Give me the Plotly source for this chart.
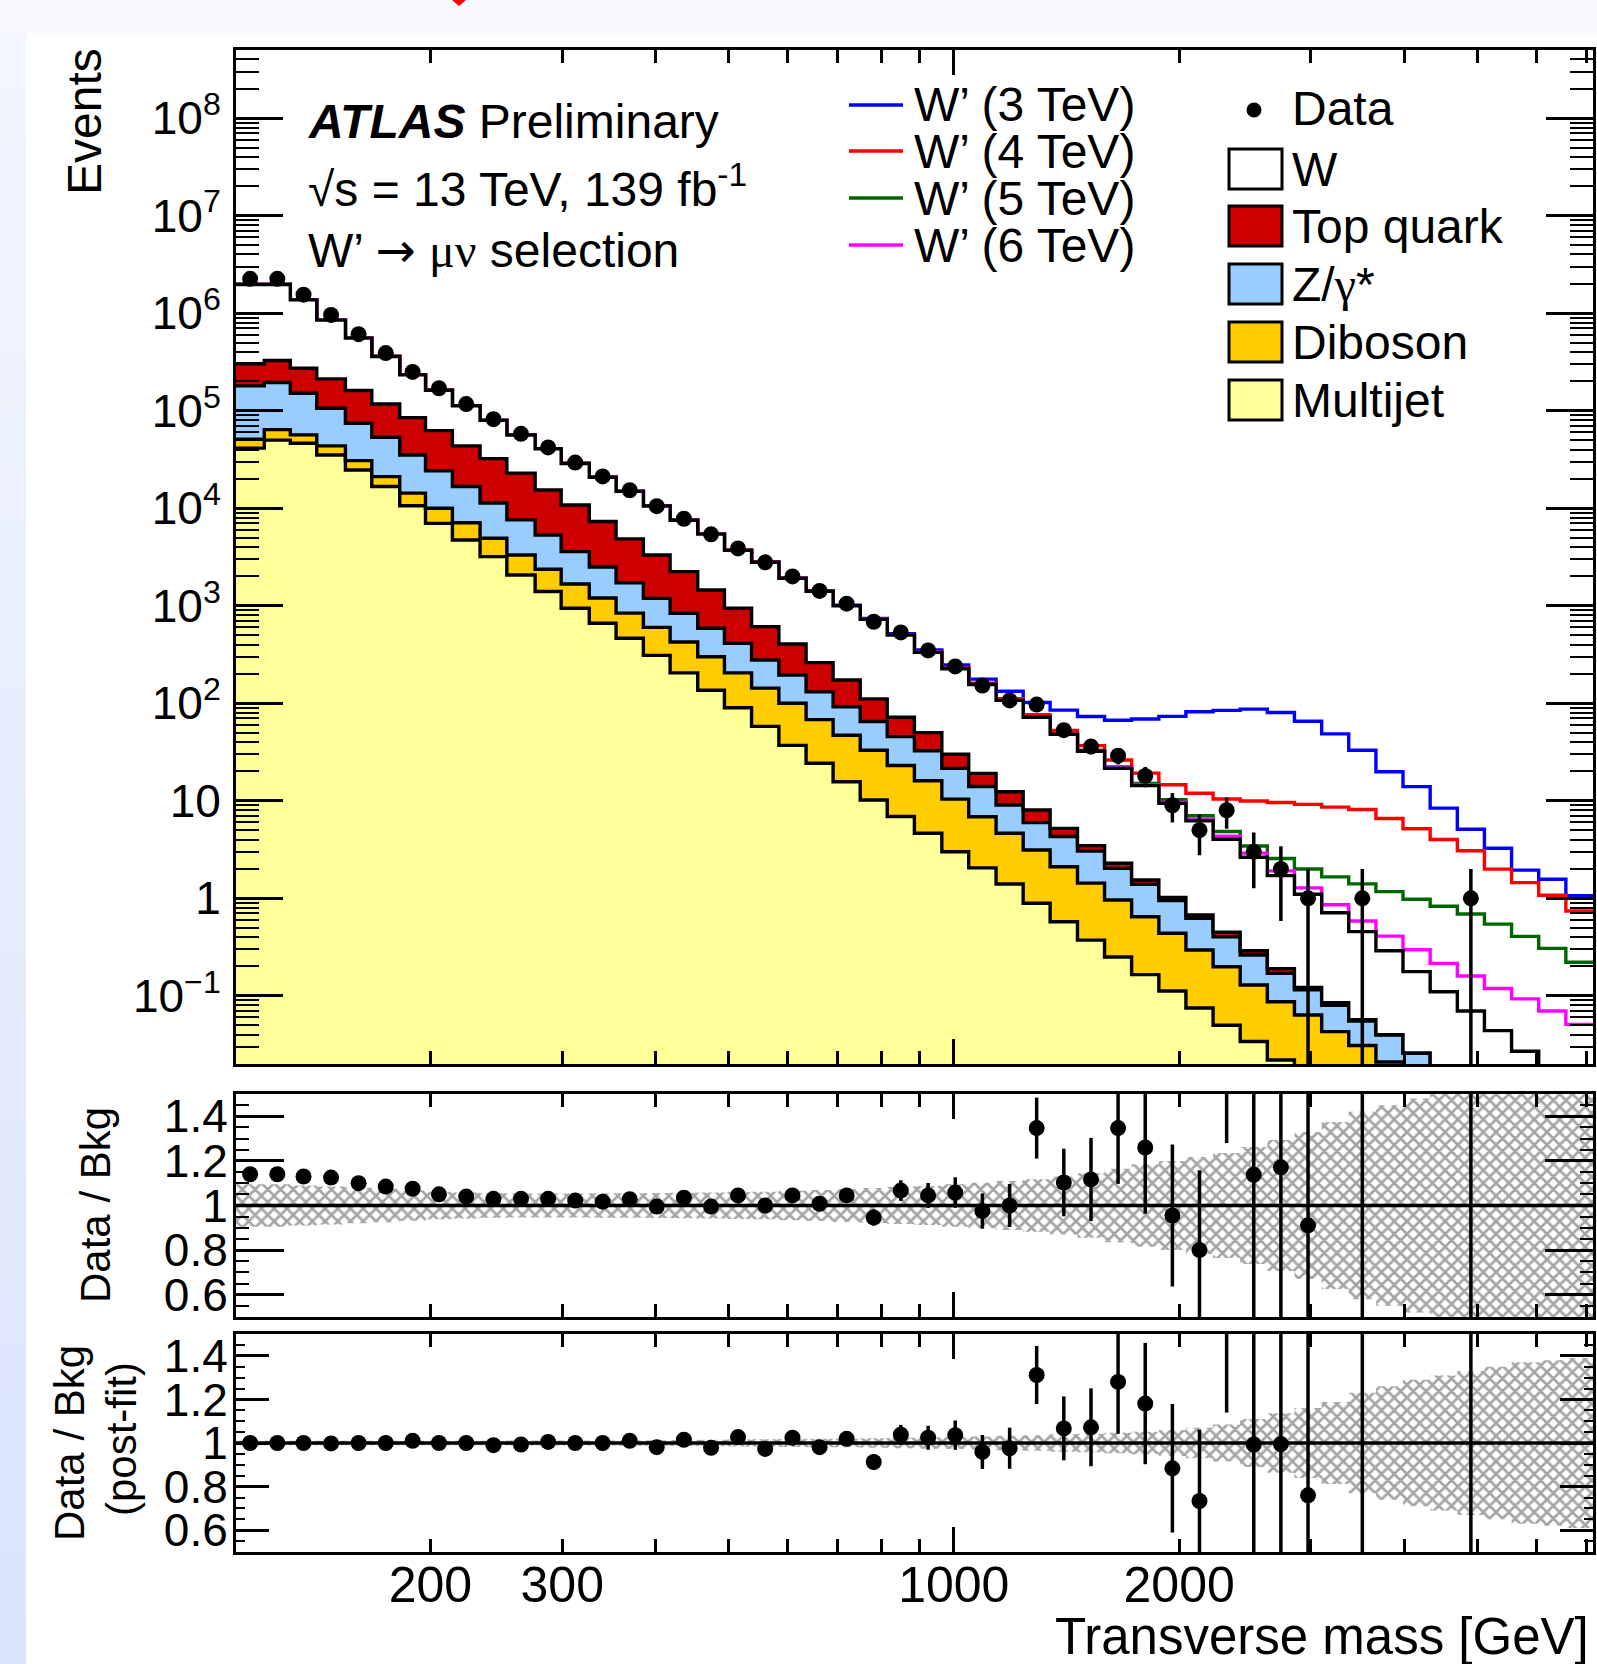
import numpy as np
import plotly.graph_objects as go

# ------------------------------------------------------------------ data
bin_edges = [110, 120, 130, 141, 154, 167, 182, 197, 214, 233, 253, 276, 299, 326, 354,
             385, 418, 455, 494, 537, 584, 635, 690, 750, 815, 886, 964, 1047, 1139, 1238,
             1345, 1463, 1590, 1728, 1879, 2042, 2220, 2413, 2623, 2851, 3100, 3369, 3663,
             3981, 4328, 4705, 5114, 5559, 6043, 6569, 7141]

data_events = [2250000, 2250000, 1550000, 960000, 610000, 390000, 250000, 170000, 117000, 82000,
               58000, 42000, 29400, 21200, 15300, 10500, 7800, 5400, 3870, 2790,
               2000, 1420, 1050, 686, 533, 348, 239, 152, 107, 97,
               53, 36, 29, 18, 9, 5, 8, 3, 2, 1,
               0, 1, 0, 0, 0, 1, 0, 0, 0, 0]

bkg_multijet = [41300, 50000, 46400, 35200, 24700, 16700, 10600, 7000, 4730, 3190,
                2070, 1400, 944, 662, 464, 310, 205, 136, 90, 58,
                37, 24.3, 15.7, 10.2, 6.9, 4.64, 3.0, 2.05, 1.40, 0.89,
                0.575, 0.373, 0.25, 0.165, 0.112, 0.075, 0.05, 0.034, 0.022, 0.0148,
                0.0099, 0.0066, 0.0044, 0.0029, 0.0019, 0.0013, 0.0009, 0.0006, 0.0004, 0.0003]

bkg_diboson = [9700, 14000, 10100, 8400, 6100, 4400, 3700, 3000, 2370, 1740,
               1250, 970, 726, 538, 376, 290, 220, 164, 115, 85,
               63, 43.7, 31.3, 22.8, 16.1, 11.4, 7.4, 4.82, 3.24, 2.24,
               1.535, 1.057, 0.71, 0.483, 0.326, 0.22, 0.149, 0.095, 0.065, 0.0487,
               0.0331, 0.0244, 0.0166, 0.0111, 0.0076, 0.0051, 0.0034, 0.0024, 0.0016, 0.001]

bkg_zgamma = [129000, 131000, 94500, 62400, 43700, 32400, 20900, 14200, 9600, 6370,
              4280, 2930, 1920, 1300, 880, 590, 413, 289, 208, 135,
              95, 63, 45, 32, 22.5, 16.6, 11.1, 7.13, 4.42, 2.84,
              2.19, 1.62, 1.07, 0.742, 0.508, 0.328, 0.205, 0.133, 0.083, 0.0515,
              0.037, 0.024, 0.0186, 0.0117, 0.0065, 0.0041, 0.0027, 0.0015, 0.001, 0.0007]

bkg_top = [123000, 132000, 122000, 106000, 86500, 63500, 49800, 38300, 26900, 21000,
           15300, 10100, 7210, 4800, 3130, 2130, 1402, 861, 530, 333,
           211, 130, 81, 46, 26.5, 17.4, 8.5, 5.1, 3.34, 2.08,
           0.92, 0.42, 0.26, 0.15, 0.074, 0.051, 0.046, 0.028, 0.02, 0.007,
           0.005, 0.002, 0.0004, 0.0003, 0.001, 0.0005, 0.0, 0.0, 0.0, 0.0]

bkg_w = [1667000, 1643000, 1097000, 638000, 394000, 243000, 148000, 99500, 68900, 47300,
         33400, 25400, 18000, 13500, 10050, 7230, 5300, 3980, 2757, 2179,
         1504, 1149, 827, 614, 428, 283, 196, 136.9, 94.6, 63.95,
         42.78, 28.73, 19.21, 12.76, 8.38, 5.576, 3.59, 2.35, 1.52, 0.978,
         0.625, 0.398, 0.25, 0.151, 0.093, 0.059, 0.037, 0.0225, 0.014, 0.009]

sig_wprime_3tev = [8, 8, 8, 9, 9, 9, 10, 10, 10, 11,
                   11, 11, 12, 12, 12, 13, 13, 14, 14, 15,
                   15, 16, 16, 17, 18, 19, 21, 21, 26, 30,
                   37, 41, 45.5, 54.7, 64, 75.7, 80.5, 84.4, 78.8, 64.4,
                   47.8, 32.5, 19.6, 13.8, 8.3, 5.03, 3.22, 1.92, 1.55, 1.05]

sig_wprime_4tev = [3, 3, 3, 3, 3, 3, 3, 3, 3, 3,
                   3, 3, 3, 3.2, 3.2, 3.3, 3.3, 3.4, 3.5, 3.5,
                   3.6, 3.7, 3.8, 3.9, 4.0, 4.1, 4.2, 4.3, 4.5, 4.5,
                   4.6, 4.6, 4.7, 4.9, 5.2, 5.7, 6.4, 7.3, 7.9, 8.1,
                   7.9, 7.7, 6.3, 5.0, 3.9, 3.0, 1.95, 1.42, 1.06, 0.73]

sig_wprime_5tev = [0.7, 0.7, 0.7, 0.7, 0.7, 0.7, 0.7, 0.7, 0.7, 0.7,
                   0.7, 0.7, 0.7, 0.7, 0.7, 0.7, 0.7, 0.7, 0.7, 0.7,
                   0.7, 0.7, 0.7, 0.7, 0.7, 0.7, 0.7, 0.7, 0.7, 0.7,
                   0.72, 0.74, 0.76, 0.8, 0.85, 0.8, 0.8, 0.8, 0.85, 0.9,
                   0.95, 0.95, 0.88, 0.8, 0.72, 0.62, 0.50, 0.38, 0.29, 0.21]

sig_wprime_6tev = [0.2, 0.2, 0.2, 0.2, 0.2, 0.2, 0.2, 0.2, 0.2, 0.2,
                   0.2, 0.2, 0.2, 0.2, 0.2, 0.2, 0.2, 0.2, 0.2, 0.2,
                   0.2, 0.2, 0.2, 0.2, 0.2, 0.2, 0.2, 0.2, 0.2, 0.2,
                   0.2, 0.2, 0.2, 0.2, 0.22, 0.25, 0.3, 0.27, 0.2, 0.18,
                   0.15, 0.13, 0.12, 0.12, 0.105, 0.09, 0.075, 0.066, 0.053, 0.040]

ratio_prefit = [1.14, 1.14, 1.13, 1.125, 1.10, 1.085, 1.075, 1.05, 1.04, 1.03,
                1.03, 1.03, 1.022, 1.017, 1.028, 0.995, 1.035, 0.995, 1.045, 1.0,
                1.045, 1.008, 1.045, 0.946, 1.067, 1.045, 1.058, 0.975, 1.0, 1.347,
                1.103, 1.117, 1.347, 1.26, 0.955, 0.80, 1.98, 1.138, 1.171, 0.911,
                None, 2.2, None, None, None, 14.0, None, None, None, None]

ratio_postfit = [1.0, 1.0, 1.0, 0.998, 1.0, 1.0, 1.01, 1.0, 1.0, 0.99,
                 0.993, 1.005, 1.0, 1.0, 1.01, 0.981, 1.015, 0.978, 1.027, 0.973,
                 1.024, 0.981, 1.019, 0.913, 1.038, 1.024, 1.036, 0.959, 0.976, 1.312,
                 1.067, 1.072, 1.28, 1.181, 0.884, 0.734, 1.764, 0.993, 0.995, 0.76,
                 None, 2.3, None, None, None, 12.0, None, None, None, None]

unc_prefit = [0.095, 0.095, 0.09, 0.085, 0.08, 0.075, 0.068, 0.062, 0.058, 0.055,
              0.054, 0.054, 0.054, 0.055, 0.055, 0.056, 0.057, 0.058, 0.06, 0.062,
              0.066, 0.07, 0.074, 0.078, 0.083, 0.088, 0.095, 0.102, 0.11, 0.118,
              0.13, 0.145, 0.165, 0.185, 0.2, 0.218, 0.235, 0.262, 0.294, 0.33,
              0.374, 0.42, 0.45, 0.48, 0.55, 0.62, 0.68, 0.74, 0.8, 0.85]

unc_postfit = [0.01, 0.01, 0.01, 0.01, 0.01, 0.01, 0.01, 0.01, 0.01, 0.01,
               0.011, 0.011, 0.012, 0.012, 0.013, 0.013, 0.014, 0.015, 0.016, 0.017,
               0.018, 0.02, 0.02, 0.022, 0.024, 0.026, 0.028, 0.03, 0.033, 0.036,
               0.04, 0.043, 0.047, 0.052, 0.06, 0.07, 0.085, 0.11, 0.137, 0.16,
               0.188, 0.23, 0.26, 0.29, 0.31, 0.33, 0.35, 0.37, 0.38, 0.39]

x_tick_vals = [200, 300, 400, 500, 600, 700, 800, 900, 1000, 2000, 3000, 4000, 5000, 6000, 7000]
x_tick_text = ['200', '300', '', '', '', '', '', '', '1000', '2000', '', '', '', '', '']
y_tick_vals = [0.1, 1, 10, 1e2, 1e3, 1e4, 1e5, 1e6, 1e7, 1e8]
y_tick_text = ['10<sup>\u22121</sup>', '1', '10', '10<sup>2</sup>', '10<sup>3</sup>', '10<sup>4</sup>',
               '10<sup>5</sup>', '10<sup>6</sup>', '10<sup>7</sup>', '10<sup>8</sup>']
r_tick_vals = [0.6, 0.8, 1.0, 1.2, 1.4]
r_tick_text = ['0.6', '0.8', '1', '1.2', '1.4']

# ------------------------------------------------------------------ geometry helpers
W, H = 1597, 1664
ML, MR, MT, MB = 236, 4, 50, 112
PW = W - ML - MR
PH = H - MT - MB


def fx(p):
    return (p - ML) / PW


def fy(p):
    return (H - MB - p) / PH


FONT = 'Liberation Sans, Arial, Helvetica, sans-serif'
SERIF = "<span style=\"font-family:'Liberation Serif'\">{}</span>"
LW = 3.4

edges = np.array(bin_edges, dtype=float)
centers = np.sqrt(edges[:-1] * edges[1:])


def stepy(v):
    v = list(v)
    return v + [v[-1]]


mj = np.array(bkg_multijet, float)
db = np.array(bkg_diboson, float)
zg = np.array(bkg_zgamma, float)
tp = np.array(bkg_top, float)
wb = np.array(bkg_w, float)
c1 = mj
c2 = c1 + db
c3 = c2 + zg
c4 = c3 + tp
c5 = c4 + wb
dat = np.array(data_events, float)

fig = go.Figure()
common = dict(showlegend=False, hoverinfo='skip')

# signal + background lines
for sig, col in [(sig_wprime_3tev, '#0000ff'), (sig_wprime_4tev, '#ff0000'),
                 (sig_wprime_5tev, '#006600'), (sig_wprime_6tev, '#ff00ff')]:
    fig.add_trace(go.Scatter(x=edges, y=stepy(c5 + np.array(sig, float)), mode='lines',
                             line=dict(color=col, width=LW, shape='hv'),
                             xaxis='x', yaxis='y', **common))

# stacked backgrounds
fig.add_trace(go.Scatter(x=edges, y=[1e-6] * len(edges), mode='lines',
                         line=dict(width=0, shape='hv'), xaxis='x', yaxis='y', **common))
for cum, col in [(c1, '#ffff99'), (c2, '#ffcc00'), (c3, '#99ccff'), (c4, '#cc0000'), (c5, '#ffffff')]:
    fig.add_trace(go.Scatter(x=edges, y=stepy(cum), mode='lines', fill='tonexty', fillcolor=col,
                             line=dict(color='black', width=LW, shape='hv'),
                             xaxis='x', yaxis='y', **common))

mask = dat > 0
fig.add_trace(go.Scatter(x=centers[mask], y=dat[mask], mode='markers',
                         marker=dict(color='black', size=16),
                         error_y=dict(type='data', array=np.sqrt(dat[mask]), color='black',
                                      thickness=3.5, width=0),
                         xaxis='x', yaxis='y', **common))

# ratio panels
for rat, unc, xa, ya in [(ratio_prefit, unc_prefit, 'x2', 'y2'),
                         (ratio_postfit, unc_postfit, 'x3', 'y3')]:
    u = np.array(unc, float)
    fig.add_trace(go.Scatter(x=edges, y=stepy(1 + u), mode='lines',
                             line=dict(width=0, shape='hv'), xaxis=xa, yaxis=ya, **common))
    fig.add_trace(go.Scatter(x=edges, y=stepy(1 - u), mode='lines',
                             line=dict(width=0, shape='hv'), fill='tonexty',
                             fillcolor='rgba(0,0,0,0)',
                             fillpattern=dict(shape='x', fgcolor='#4a4a4a', bgcolor='rgba(0,0,0,0)',
                                              size=9, solidity=0.5),
                             xaxis=xa, yaxis=ya, **common))
    fig.add_trace(go.Scatter(x=[edges[0], edges[-1]], y=[1, 1], mode='lines',
                             line=dict(color='black', width=3.6), xaxis=xa, yaxis=ya, **common))
    r = np.array([np.nan if v is None else v for v in rat], float)
    m = ~np.isnan(r)
    err = r[m] / np.sqrt(dat[m])
    fig.add_trace(go.Scatter(x=centers[m], y=r[m], mode='markers',
                             marker=dict(color='black', size=16),
                             error_y=dict(type='data', array=err, color='black', thickness=3.5, width=0),
                             xaxis=xa, yaxis=ya, **common))

# ------------------------------------------------------------------ axes
xrange_log = [np.log10(edges[0]), np.log10(edges[-1])]
xbase = dict(type='log', range=xrange_log, domain=[0, 1], showgrid=False, zeroline=False,
             showline=True, linecolor='black', linewidth=3, mirror='ticks',
             ticks='inside', tickmode='array', tickvals=x_tick_vals, ticktext=x_tick_text,
             ticklen=13, tickwidth=2.5, tickcolor='black',
             minor=dict(tickmode='array', tickvals=[1000], ticks='inside', ticklen=25,
                        tickwidth=2.5, tickcolor='black'),
             tickfont=dict(family=FONT, size=50, color='black'), automargin=False)

ymin_minor = [m * 10.0 ** e for e in range(-2, 9) for m in range(2, 10) if 0.02 <= m * 10.0 ** e <= 5e8]
r_minor = [0.55, 0.65, 0.7, 0.75, 0.85, 0.9, 0.95, 1.05, 1.1, 1.15, 1.25, 1.3, 1.35, 1.45]

ybase = dict(showgrid=False, zeroline=False, showline=True, linecolor='black', linewidth=3,
             mirror='ticks', ticks='inside', tickwidth=2.5, tickcolor='black', automargin=False,
             tickmode='array')

d_main = [(H - MB - 1064) / PH, 1.0]
d_r1 = [(H - MB - 1317) / PH, (H - MB - 1094) / PH]
d_r2 = [0.0, (H - MB - 1334) / PH]

fig.update_layout(
    xaxis=dict(xbase, anchor='y', showticklabels=False),
    xaxis2=dict(xbase, anchor='y2', showticklabels=False, matches='x'),
    xaxis3=dict(xbase, anchor='y3', showticklabels=True, matches='x', ticklabelstandoff=-13),
    yaxis=dict(ybase, type='log', domain=d_main, anchor='x',
               range=[np.log10(0.02), np.log10(5e8)],
               tickvals=y_tick_vals, ticktext=y_tick_text, ticklen=47,
               minor=dict(tickmode='array', tickvals=ymin_minor, ticks='inside', ticklen=23,
                          tickwidth=2.2, tickcolor='black'),
               ticklabelstandoff=3,
               tickfont=dict(family=FONT, size=46, color='black')),
    yaxis2=dict(ybase, domain=d_r1, anchor='x2', range=[0.5, 1.5],
                tickvals=r_tick_vals, ticktext=r_tick_text, ticklen=48,
                minor=dict(tickmode='array', tickvals=r_minor, ticks='inside', ticklen=13,
                           tickwidth=2.2, tickcolor='black'),
                ticklabelstandoff=-4,
                tickfont=dict(family=FONT, size=46, color='black')),
    yaxis3=dict(ybase, domain=d_r2, anchor='x3', range=[0.5, 1.5],
                tickvals=r_tick_vals, ticktext=r_tick_text, ticklen=33,
                minor=dict(tickmode='array', tickvals=r_minor, ticks='inside', ticklen=9,
                           tickwidth=2.2, tickcolor='black'),
                ticklabelstandoff=-4,
                tickfont=dict(family=FONT, size=46, color='black')),
)

# ------------------------------------------------------------------ decorations
shapes = []
# slide background strips
shapes.append(dict(type='rect', xref='paper', yref='paper', x0=fx(0), x1=fx(W), y0=fy(33), y1=fy(0),
                   fillcolor='#f7f9fd', line=dict(width=0), layer='below'))
n = 30
for i in range(n):
    t = (i + 0.5) / n
    rr = int(round(243 + (217 - 243) * t))
    gg = int(round(246 + (228 - 246) * t))
    bb = int(round(254 + (251 - 254) * t))
    p0 = 33 + (H - 33) * i / n
    p1 = 33 + (H - 33) * (i + 1) / n + 1
    shapes.append(dict(type='rect', xref='paper', yref='paper', x0=fx(0), x1=fx(26),
                       y0=fy(p1), y1=fy(p0), fillcolor=f'rgb({rr},{gg},{bb})',
                       line=dict(width=0), layer='below'))
shapes.append(dict(type='path', xref='paper', yref='paper',
                   path=f'M {fx(452)},{fy(0)} L {fx(466)},{fy(0)} L {fx(459)},{fy(6)} Z',
                   fillcolor='#ff0000', line=dict(width=0)))

# legend: signal lines
sig_leg = [('#0000ff', 'W\u2019 (3 TeV)', 105), ('#ff0000', 'W\u2019 (4 TeV)', 151),
           ('#006600', 'W\u2019 (5 TeV)', 198), ('#ff00ff', 'W\u2019 (6 TeV)', 245)]
annotations = []
for col, txt, yc in sig_leg:
    shapes.append(dict(type='line', xref='paper', yref='paper', x0=fx(849), x1=fx(903),
                       y0=fy(yc), y1=fy(yc), line=dict(color=col, width=3.4)))
    annotations.append(dict(x=fx(912), y=fy(yc), xref='paper', yref='paper', text=txt,
                            showarrow=False, xanchor='left', yanchor='middle',
                            font=dict(family=FONT, size=48, color='black')))

# legend: data + backgrounds
shapes.append(dict(type='circle', xref='paper', yref='paper', xsizemode='pixel', ysizemode='pixel',
                   xanchor=fx(1254), yanchor=fy(110), x0=-7.5, x1=7.5, y0=-7.5, y1=7.5,
                   fillcolor='black', line=dict(width=0)))
annotations.append(dict(x=fx(1290), y=fy(108), xref='paper', yref='paper', text='Data',
                        showarrow=False, xanchor='left', yanchor='middle',
                        font=dict(family=FONT, size=48, color='black')))
bkg_leg = [('#ffffff', 'W', 169), ('#cc0000', 'Top quark', 226),
           ('#99ccff', 'Z/' + SERIF.format('\u03b3') + '*', 284),
           ('#ffcc00', 'Diboson', 342), ('#ffff99', 'Multijet', 400)]
for col, txt, yc in bkg_leg:
    shapes.append(dict(type='rect', xref='paper', yref='paper', x0=fx(1229), x1=fx(1282),
                       y0=fy(yc + 20), y1=fy(yc - 20), fillcolor=col,
                       line=dict(color='black', width=3)))
    annotations.append(dict(x=fx(1290), y=fy(yc), xref='paper', yref='paper', text=txt,
                            showarrow=False, xanchor='left', yanchor='middle',
                            font=dict(family=FONT, size=48, color='black')))

# ATLAS labels
atlas_lines = [('<b><i>ATLAS</i></b> Preliminary', 122),
               ('\u221as = 13 TeV, 139 fb<sup>-1</sup>', 186),
               ('W\u2019 ' + "<span style=\"font-family:'DejaVu Sans'\">\u2192</span> "
                + SERIF.format('\u03bc\u03bd') + ' selection', 250)]
for txt, yc in atlas_lines:
    annotations.append(dict(x=fx(306), y=fy(yc), xref='paper', yref='paper', text=txt,
                            showarrow=False, xanchor='left', yanchor='middle',
                            font=dict(family=FONT, size=48, color='black')))

# axis titles
annotations += [
    dict(x=fx(85), y=fy(122), xref='paper', yref='paper', text='Events', textangle=-90,
         showarrow=False, xanchor='center', yanchor='middle',
         font=dict(family=FONT, size=48, color='black')),
    dict(x=fx(95), y=fy(1205), xref='paper', yref='paper', text='Data / Bkg', textangle=-90,
         showarrow=False, xanchor='center', yanchor='middle',
         font=dict(family=FONT, size=42, color='black')),
    dict(x=fx(69), y=fy(1443), xref='paper', yref='paper', text='Data / Bkg', textangle=-90,
         showarrow=False, xanchor='center', yanchor='middle',
         font=dict(family=FONT, size=42, color='black')),
    dict(x=fx(121), y=fy(1439), xref='paper', yref='paper', text='(post-fit)', textangle=-90,
         showarrow=False, xanchor='center', yanchor='middle',
         font=dict(family=FONT, size=42, color='black')),
    dict(x=fx(1591), y=fy(1637), xref='paper', yref='paper', text='Transverse mass [GeV]',
         showarrow=False, xanchor='right', yanchor='middle',
         font=dict(family=FONT, size=51, color='black')),
]

fig.update_layout(
    width=W, height=H,
    margin=dict(l=ML, r=MR, t=MT, b=MB, pad=0),
    paper_bgcolor='white', plot_bgcolor='white',
    showlegend=False,
    font=dict(family=FONT, color='black'),
    shapes=shapes, annotations=annotations,
)

fig.write_html('out.html')
